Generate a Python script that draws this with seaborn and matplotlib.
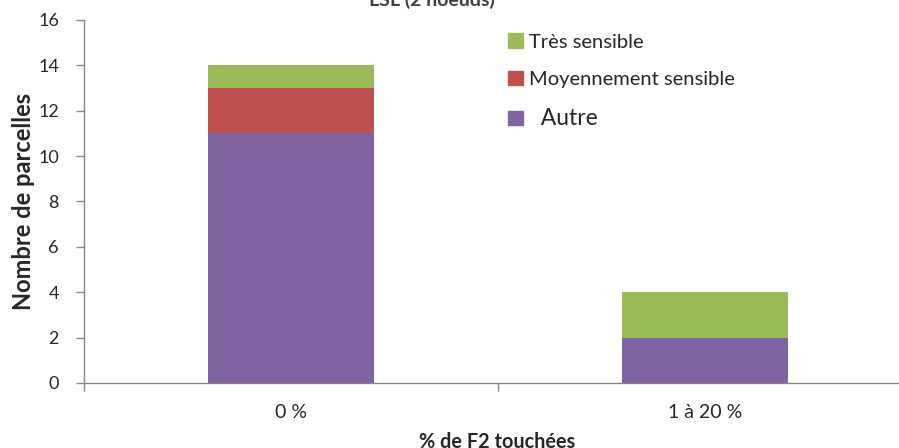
import numpy as np
import pandas as pd
import matplotlib
matplotlib.use("Agg")
import matplotlib.pyplot as plt
from matplotlib.patches import Patch
import seaborn as sns

categories = ["0 %", "1 à 20 %"]
autre = [11, 2]
moyen = [2, 0]
tres = [1, 2]

sns.set_style("white")
plt.rcParams['font.family'] = ['Lato', 'DejaVu Sans']

dat = pd.DataFrame({"cat": categories, "autre": autre, "moyen": moyen, "tres": tres})
dat["c1"] = dat["autre"]
dat["c2"] = dat["autre"] + dat["moyen"]
dat["c3"] = dat["c2"] + dat["tres"]

col_autre = "#8064A2"
col_moyen = "#C0504D"
col_tres = "#9BBB59"

fig = plt.figure(figsize=(8.99, 4.48), dpi=100)
ax = fig.add_axes([0.0934, 0.1451, 0.921, 0.8103])

# stacked bars: draw tallest first
for col, c in [("c3", col_tres), ("c2", col_moyen), ("c1", col_autre)]:
    sns.barplot(data=dat, x="cat", y=col, color=c, saturation=1, width=0.4,
                linewidth=0, ax=ax)

ax.set_xlim(-0.5, 1.5)
ax.set_ylim(0, 16)
ax.set_yticks(np.arange(0, 17, 2))
ax.tick_params(axis='y', direction='out', length=6, width=1, color='#868686',
               labelsize=13, pad=12, left=True)

# category labels without marks, ticks between categories
ax.set_xticks([0, 1])
ax.set_xticklabels(categories)
ax.tick_params(axis='x', which='major', length=0, labelsize=14, pad=15)
ax.set_xticks([-0.5, 0.5, 1.5], minor=True)
ax.tick_params(axis='x', which='minor', direction='out', length=6, width=1,
               color='#868686', bottom=True)

for s in ['top', 'right']:
    ax.spines[s].set_visible(False)
for s in ['left', 'bottom']:
    ax.spines[s].set_color('#868686')
    ax.spines[s].set_linewidth(1)

ax.set_ylabel("Nombre de parcelles", fontsize=17, fontweight='bold', labelpad=2)
ax.set_xlabel("")
fig.text(0.553, 0.0, "% de F2 touchées", ha='center', va='baseline',
         fontsize=14.3, fontweight='bold')

handles = [Patch(color=col_tres), Patch(color=col_moyen), Patch(color=col_autre)]
leg = ax.legend(handles, ["Très sensible", "Moyennement sensible", "  Autre"],
                loc='upper left', bbox_to_anchor=(0.503, 0.985), frameon=False,
                handlelength=0.7, handleheight=0.7, handletextpad=0.3,
                labelspacing=1.0, fontsize=14.5, borderaxespad=0)
leg.get_texts()[2].set_fontsize(16.5)

fig.text(0.48, 0.987, "LSL (2 noeuds)", ha='center', va='baseline',
         fontsize=14, fontweight='bold', color='#404040')

fig.savefig("out.png", dpi=100)
